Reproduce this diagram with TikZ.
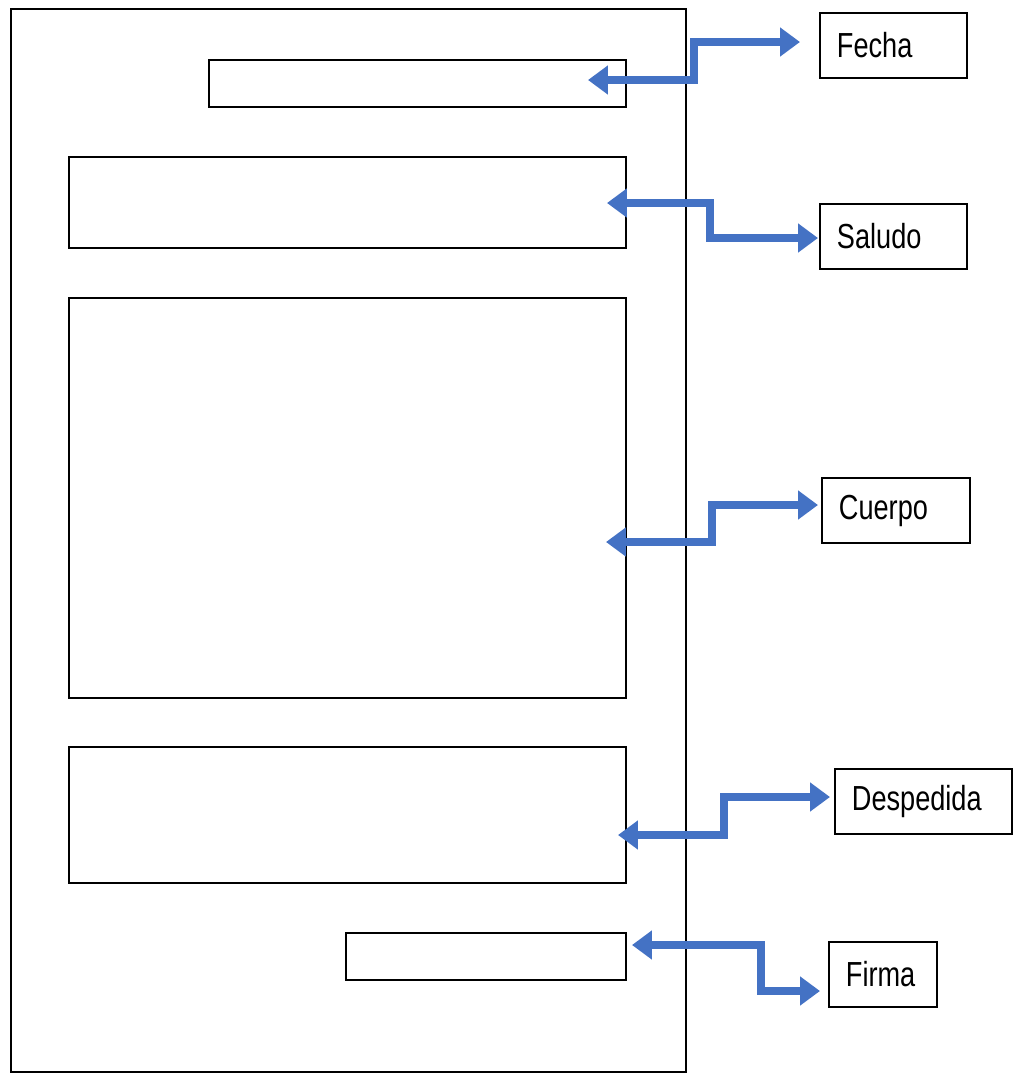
\documentclass[tikz,border=0pt]{standalone}
\usepackage{fontspec}
\usepackage{tikz}
\usetikzlibrary{arrows.meta}
\newfontfamily\lblfont[FakeStretch=0.78]{Liberation Sans}
\definecolor{arrowblue}{HTML}{4472C4}
\tikzset{
  field/.style={draw,line width=1.1pt,anchor=north west,inner sep=0pt},
  lbl/.style={draw,line width=1.1pt,anchor=north west,minimum height=1.3cm,
    inner xsep=0.34cm,align=left,text width=#1,
    font=\lblfont\fontsize{19.8}{22}\selectfont},
  conn/.style={draw=arrowblue,line width=4.5pt,
    {Triangle[length=0.4cm,width=0.56cm]}-{Triangle[length=0.4cm,width=0.56cm]}},
}
\begin{document}
\begin{tikzpicture}[x=0.02cm,y=-0.02cm]
\useasboundingbox (0,0) rectangle (1013,1073);
% hoja
\node[field,minimum width=13.5cm,minimum height=21.26cm] (hoja) at (10,8) {};
% campos
\node[field,minimum width=8.34cm,minimum height=0.94cm] (fFecha) at (208,59) {};
\node[field,minimum width=11.14cm,minimum height=1.82cm] (fSaludo) at (68,156) {};
\node[field,minimum width=11.14cm,minimum height=8cm] (fCuerpo) at (68,297) {};
\node[field,minimum width=11.14cm,minimum height=2.72cm] (fDespedida) at (68,746) {};
\node[field,minimum width=5.6cm,minimum height=0.94cm] (fFirma) at (345,932) {};
% etiquetas
\node[lbl=2.26cm] (lFecha) at (819,12) {Fecha};
\node[lbl=2.26cm] (lSaludo) at (819,203) {Saludo};
\node[lbl=2.28cm] (lCuerpo) at (821,477) {Cuerpo};
\node[lbl=2.86cm] (lDespedida) at (834,768) {Despedida};
\node[lbl=1.48cm] (lFirma) at (828,941) {Firma};
% puntas
\coordinate (pFecha) at (588,80);
\coordinate (qFecha) at (800,42);
\coordinate (pSaludo) at (607,203);
\coordinate (qSaludo) at (818,238);
\coordinate (pCuerpo) at (606,542);
\coordinate (qCuerpo) at (818,505);
\coordinate (pDespedida) at (618,835);
\coordinate (qDespedida) at (830,797);
\coordinate (pFirma) at (632,945);
\coordinate (qFirma) at (820,991);
% flechas
\draw[conn] (pFecha) -- ++(106,0) |- (qFecha);
\draw[conn] (pSaludo) -- ++(103,0) |- (qSaludo);
\draw[conn] (pCuerpo) -- ++(106,0) |- (qCuerpo);
\draw[conn] (pDespedida) -- ++(106,0) |- (qDespedida);
\draw[conn] (pFirma) -- ++(129,0) |- (qFirma);
\end{tikzpicture}
\end{document}
